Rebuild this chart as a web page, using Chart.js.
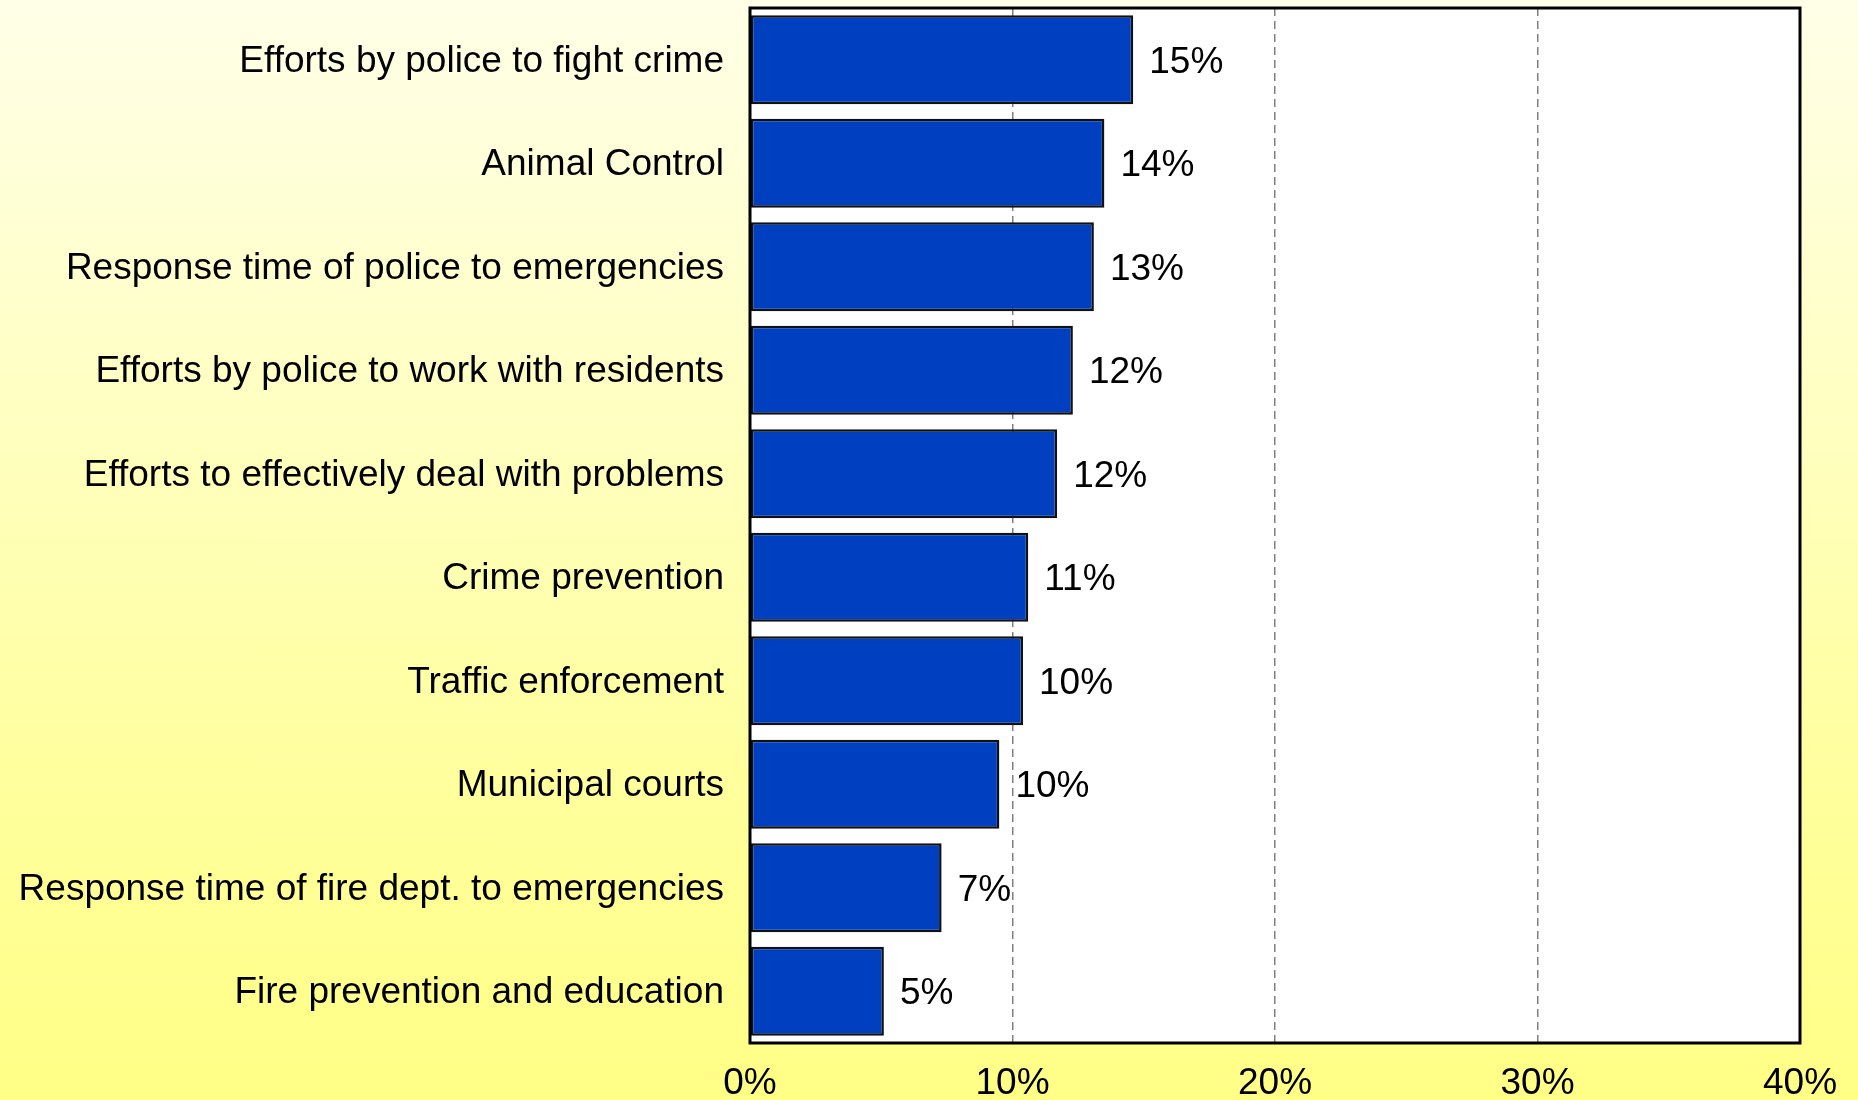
<!DOCTYPE html>
<html>
<head>
<meta charset="utf-8">
<script src="https://cdn.jsdelivr.net/npm/chart.js@4/dist/chart.umd.min.js"></script>
<style>
  html, body { margin: 0; padding: 0; }
  body {
    width: 1858px; height: 1100px; overflow: hidden;
    background: linear-gradient(180deg, #ffffe8 0%, #ffffc4 35%, #ffff9e 70%, #ffff86 100%);
  }
  #wrap { position: relative; width: 1858px; height: 1100px; }
</style>
</head>
<body>
<div id="wrap"><canvas id="chart" width="1858" height="1100"></canvas></div>
<script>
const categories = [
  "Efforts by police to fight crime",
  "Animal Control",
  "Response time of police to emergencies",
  "Efforts by police to work with residents",
  "Efforts to effectively deal with problems",
  "Crime prevention",
  "Traffic enforcement",
  "Municipal courts",
  "Response time of fire dept. to emergencies",
  "Fire prevention and education"
];
const values = [14.6, 13.5, 13.1, 12.3, 11.7, 10.6, 10.4, 9.5, 7.3, 5.1];
const xTicks = [0, 10, 20, 30, 40];

const FONT = "'Liberation Sans', Arial, sans-serif";

// white plot background + black frame around the chart area
const plotFrame = {
  id: "plotFrame",
  beforeDraw(chart) {
    const { ctx, chartArea: a } = chart;
    ctx.save();
    ctx.fillStyle = "#ffffff";
    ctx.fillRect(a.left, a.top, a.right - a.left, a.bottom - a.top);
    ctx.restore();
  },
  afterDraw(chart) {
    const { ctx, chartArea: a } = chart;
    ctx.save();
    ctx.strokeStyle = "#000";
    ctx.lineWidth = 3;
    ctx.strokeRect(a.left, a.top, a.right - a.left, a.bottom - a.top);
    ctx.restore();
  }
};

// percentage label at the end of each bar
const barValues = {
  id: "barValues",
  afterDatasetsDraw(chart) {
    const { ctx } = chart;
    const meta = chart.getDatasetMeta(0);
    ctx.save();
    ctx.font = "37px " + FONT;
    ctx.fillStyle = "#000";
    ctx.textAlign = "left";
    ctx.textBaseline = "middle";
    meta.data.forEach((bar, i) => {
      ctx.fillText(Math.round(values[i]) + "%", bar.x + 16, bar.y + 3);
    });
    ctx.restore();
  }
};

new Chart(document.getElementById("chart"), {
  type: "bar",
  data: {
    labels: categories,
    datasets: [{
      data: values,
      backgroundColor: "#0040c0",
      borderColor: "#111111",
      borderWidth: 2.5,
      borderSkipped: false,
      barPercentage: 0.86,
      categoryPercentage: 1.0
    }]
  },
  options: {
    indexAxis: "y",
    responsive: false,
    animation: false,
    layout: { padding: { top: 8, right: 58, left: 0, bottom: 0 } },
    plugins: { legend: { display: false }, tooltip: { enabled: false } },
    scales: {
      x: {
        min: 0,
        max: 40,
        afterBuildTicks(scale) { scale.ticks = xTicks.map(v => ({ value: v })); },
        afterFit(scale) {
          scale.height = 57;
          scale.paddingLeft = 0;
          scale.paddingRight = 0;
        },
        grid: {
          drawTicks: false,
          lineWidth: 1.5,
          color: ctx => (ctx.tick && (ctx.tick.value === 0 || ctx.tick.value === 40)) ? "rgba(0,0,0,0)" : "#808080"
        },
        border: { display: false, dash: [8, 5] },
        ticks: {
          color: "#000",
          font: { family: FONT, size: 37 },
          padding: 19,
          maxRotation: 0,
          callback: v => v + "%"
        }
      },
      y: {
        afterFit(scale) {
          scale.width = 750;
          scale.paddingTop = 0;
          scale.paddingBottom = 0;
        },
        grid: { display: false, drawTicks: false },
        border: { display: false },
        ticks: {
          color: "#000",
          font: { family: FONT, size: 37 },
          padding: 26,
          labelOffset: 2,
          autoSkip: false
        }
      }
    }
  },
  plugins: [plotFrame, barValues]
});
</script>
</body>
</html>
